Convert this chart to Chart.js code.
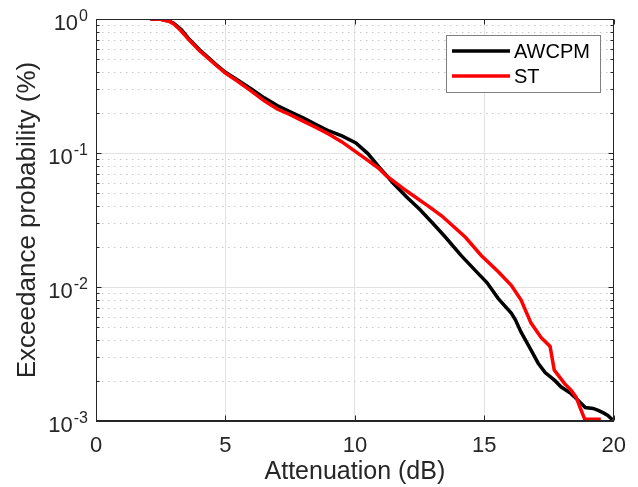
<!DOCTYPE html>
<html>
<head>
<meta charset="utf-8">
<script src="https://cdn.jsdelivr.net/npm/chart.js@4/dist/chart.umd.min.js"></script>
<style>
  html, body { margin: 0; padding: 0; background: #fff; }
  #wrap { width: 638px; height: 487px; }
</style>
</head>
<body>
<div id="wrap"><canvas id="myChart" width="638" height="487"></canvas></div>
<script>
// attenuation (dB) / exceedance probability for each model
const awcpmAtt = [2.1, 2.5, 2.85, 3.0, 3.3, 3.62, 4.0, 4.65, 5.0, 5.5, 6.0, 6.5, 7.0, 7.5, 8.0, 8.5, 9.0, 9.5, 10.04, 10.5, 10.92, 11.5, 12.0, 12.5, 13.0, 13.5, 14.1, 14.73, 15.1, 15.54, 16.04, 16.2, 16.42, 16.8, 17.08, 17.35, 17.73, 17.96, 18.35, 18.6, 18.9, 19.2, 19.4, 19.6, 19.77, 19.95];
const awcpmProb = [1.0, 0.995, 0.96, 0.93, 0.83, 0.70, 0.59, 0.455, 0.40, 0.348, 0.30, 0.258, 0.226, 0.203, 0.183, 0.163, 0.146, 0.134, 0.119, 0.099, 0.079, 0.059, 0.047, 0.038, 0.030, 0.0235, 0.0172, 0.0128, 0.0108, 0.0082, 0.0064, 0.0057, 0.0046, 0.0034, 0.0027, 0.0023, 0.0020, 0.0018, 0.0016, 0.00144, 0.00126, 0.00124, 0.0012, 0.00115, 0.0011, 0.00102];

const stAtt = [2.1, 2.5, 2.85, 3.0, 3.3, 3.62, 4.0, 4.65, 5.0, 5.5, 6.0, 6.5, 7.0, 7.5, 8.0, 8.5, 9.0, 9.5, 10.04, 10.5, 10.92, 11.2, 12.0, 12.85, 13.35, 14.27, 14.88, 15.54, 16.04, 16.42, 16.8, 17.19, 17.54, 17.7, 17.85, 18.1, 18.35, 18.55, 18.7, 18.88, 19.5];
const stProb = [1.0, 0.995, 0.955, 0.92, 0.81, 0.69, 0.58, 0.45, 0.395, 0.34, 0.29, 0.245, 0.213, 0.193, 0.173, 0.155, 0.138, 0.121, 0.102, 0.088, 0.077, 0.068, 0.052, 0.040, 0.034, 0.0235, 0.0172, 0.0130, 0.0103, 0.0080, 0.0054, 0.0042, 0.0036, 0.0024, 0.0022, 0.0019, 0.0017, 0.0015, 0.00126, 0.00103, 0.00103];

const xTicks = [0, 5, 10, 15, 20];
const yDecades = [0.001, 0.01, 0.1, 1];
const yTickValues = [];
yDecades.slice(0, -1).forEach(d => { for (let m = 1; m < 10; m++) yTickValues.push(+(d * m).toPrecision(3)); });
yTickValues.push(1);
const yExponents = ['-3', '-2', '-1', '0'];

const FONT = "'Liberation Sans', Arial, Helvetica, sans-serif";
const AXIS_COLOR = '#262626';

const isDecade = v => Math.abs(Math.log10(v) - Math.round(Math.log10(v))) < 1e-6;

function toPoints(xs, ys) {
  return xs.map((x, i) => ({ x: x, y: ys[i] }));
}

// dotted minor grid, drawn under the curves
const minorGrid = {
  id: 'minorGrid',
  beforeDatasetsDraw(chart) {
    const { ctx, chartArea: a, scales: { y } } = chart;
    ctx.save();
    ctx.strokeStyle = '#c8c8c8';
    ctx.lineWidth = 1;
    ctx.setLineDash([1.5, 4.5]);
    yTickValues.filter(v => !isDecade(v)).forEach(v => {
      const py = Math.round(y.getPixelForValue(v)) + 0.5;
      ctx.beginPath();
      ctx.moveTo(a.left, py);
      ctx.lineTo(a.right, py);
      ctx.stroke();
    });
    ctx.restore();
  }
};

// box around the axes with inward tick marks on all four sides
const axesBox = {
  id: 'axesBox',
  afterDatasetsDraw(chart) {
    const { ctx, chartArea: a, scales: { x, y } } = chart;
    ctx.save();
    ctx.strokeStyle = AXIS_COLOR;
    ctx.lineWidth = 1;
    const L = Math.round(a.left) + 0.5, R = Math.round(a.right) - 0.5;
    const T = Math.round(a.top) + 0.5, B = Math.round(a.bottom) - 0.5;
    ctx.strokeRect(L, T, R - L, B - T);
    ctx.beginPath();
    xTicks.forEach(v => {
      const px = Math.round(x.getPixelForValue(v)) + 0.5;
      ctx.moveTo(px, B); ctx.lineTo(px, B - 5);
      ctx.moveTo(px, T); ctx.lineTo(px, T + 5);
    });
    yTickValues.forEach(v => {
      const len = isDecade(v) ? 5 : 3;
      const py = Math.round(y.getPixelForValue(v)) + 0.5;
      ctx.moveTo(L, py); ctx.lineTo(L + len, py);
      ctx.moveTo(R, py); ctx.lineTo(R - len, py);
    });
    ctx.stroke();
    ctx.restore();
  }
};

// 10^n labels for the log axis and the legend box
const labelsAndLegend = {
  id: 'labelsAndLegend',
  afterDraw(chart) {
    const { ctx, chartArea: a, scales: { y } } = chart;
    ctx.save();
    ctx.fillStyle = AXIS_COLOR;
    ctx.textBaseline = 'alphabetic';
    yDecades.forEach((v, i) => {
      const py = y.getPixelForValue(v);
      ctx.font = '16px ' + FONT;
      const ew = ctx.measureText(yExponents[i]).width;
      const x0 = a.left - 8 - ew;
      ctx.textAlign = 'left';
      ctx.fillText(yExponents[i], x0, py + 2);
      ctx.font = '22px ' + FONT;
      ctx.textAlign = 'right';
      ctx.fillText('10', x0 - 1, py + 11);
    });

    // legend
    const bx = 446.5, by = 35.5, bw = 154, bh = 57;
    ctx.fillStyle = '#fff';
    ctx.fillRect(bx, by, bw, bh);
    ctx.strokeStyle = '#808080';
    ctx.lineWidth = 1;
    ctx.strokeRect(bx, by, bw, bh);
    const rows = [51, 76];
    chart.data.datasets.forEach((ds, i) => {
      ctx.strokeStyle = ds.borderColor;
      ctx.lineWidth = 3.5;
      ctx.beginPath();
      ctx.moveTo(452, rows[i]);
      ctx.lineTo(510, rows[i]);
      ctx.stroke();
      ctx.fillStyle = '#000';
      ctx.font = '20px ' + FONT;
      ctx.textAlign = 'left';
      ctx.textBaseline = 'middle';
      ctx.fillText(ds.label, 514, rows[i] + 1);
    });
    ctx.restore();
  }
};

const ctx = document.getElementById('myChart').getContext('2d');
new Chart(ctx, {
  type: 'line',
  data: {
    datasets: [
      { label: 'AWCPM', data: toPoints(awcpmAtt, awcpmProb), borderColor: '#000000', borderWidth: 3.5, pointRadius: 0, order: 1, clip: 0 },
      { label: 'ST', data: toPoints(stAtt, stProb), borderColor: '#ff0000', borderWidth: 3.5, pointRadius: 0, order: 0, clip: 0 }
    ]
  },
  options: {
    responsive: false,
    animation: false,
    layout: { padding: { top: 19, right: 22, bottom: 0, left: 0 } },
    plugins: {
      legend: { display: false },
      tooltip: { enabled: false }
    },
    scales: {
      x: {
        type: 'linear',
        min: 0,
        max: 20,
        afterBuildTicks: s => { s.ticks = xTicks.map(v => ({ value: v })); },
        afterFit: s => { s.height = 66; },
        ticks: { font: { family: FONT, size: 22 }, color: AXIS_COLOR, padding: 12, maxRotation: 0 },
        grid: {
          drawTicks: false,
          color: c => (c.tick && (c.tick.value === 0 || c.tick.value === 20)) ? 'rgba(0,0,0,0)' : '#e2e2e2'
        },
        border: { color: AXIS_COLOR },
        title: {
          display: true,
          text: 'Attenuation (dB)',
          color: AXIS_COLOR,
          font: { family: FONT, size: 25, lineHeight: 1 },
          padding: { top: 0, bottom: 2 }
        }
      },
      y: {
        type: 'logarithmic',
        min: 0.001,
        max: 1,
        afterBuildTicks: s => { s.ticks = yTickValues.map(v => ({ value: v, major: isDecade(v) })); },
        afterFit: s => { s.width = 96; },
        ticks: { display: false },
        grid: {
          drawTicks: false,
          color: c => (c.tick && isDecade(c.tick.value) && c.tick.value !== 1 && c.tick.value !== 0.001) ? '#e2e2e2' : 'rgba(0,0,0,0)'
        },
        border: { color: AXIS_COLOR },
        title: {
          display: true,
          text: 'Exceedance probability (%)',
          color: AXIS_COLOR,
          font: { family: FONT, size: 26, lineHeight: 1 },
          padding: { top: 15, bottom: 0 }
        }
      }
    }
  },
  plugins: [minorGrid, axesBox, labelsAndLegend]
});
</script>
</body>
</html>
